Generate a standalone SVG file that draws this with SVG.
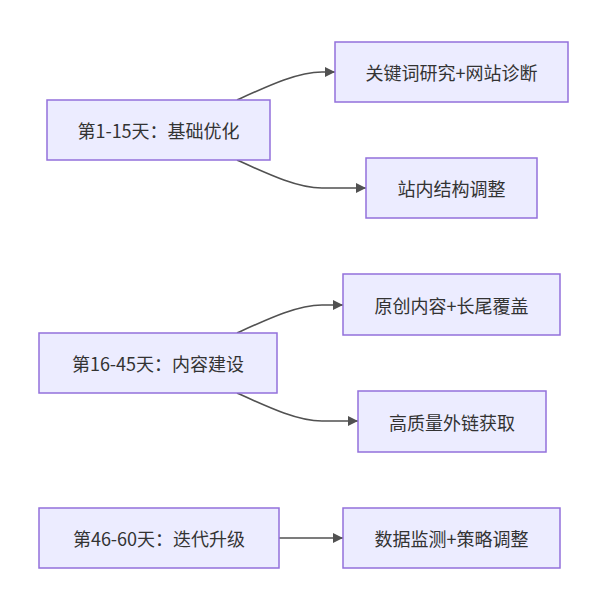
<svg xmlns="http://www.w3.org/2000/svg" width="597" height="592" viewBox="0 0 597 592">
<style>
.node rect{fill:#ECECFF;stroke:#9370DB;stroke-width:1.5}
.node text{font-family:"Noto Sans CJK SC","Noto Sans",sans-serif;font-size:18px;fill:#333;text-anchor:middle;dominant-baseline:central}
.edge{fill:none;stroke:#333;stroke-width:1.6;opacity:0.85}
</style>
<defs>
<marker id="arrow" viewBox="0 0 10 10" refX="10" refY="5" markerUnits="userSpaceOnUse" markerWidth="10" markerHeight="10" orient="auto">
<path d="M0,0 L10,5 L0,10 z" fill="#333"/>
</marker>
</defs>
<rect width="597" height="592" fill="#fff"/>
<g id="connectors">
<path class="edge" d="M237,100 C270,85 298,72 322,72 L335,72" marker-end="url(#arrow)"/>
<path class="edge" d="M237,160 C270,175 298,188 322,188 L366,188" marker-end="url(#arrow)"/>
<path class="edge" d="M237,333 C270,318 298,305 322,305 L343,305" marker-end="url(#arrow)"/>
<path class="edge" d="M237,393 C270,408 298,421 322,421 L358,421" marker-end="url(#arrow)"/>
<path class="edge" d="M279,538 L343,538" marker-end="url(#arrow)"/>
</g>
<g id="n1" class="node"><rect x="47" y="100" width="223" height="60"/><text x="158.5" y="130">第1-15天：基础优化</text></g>
<g id="n2" class="node"><rect x="335" y="42" width="233" height="60"/><text x="451.5" y="72">关键词研究+网站诊断</text></g>
<g id="n3" class="node"><rect x="366" y="158" width="171" height="60"/><text x="451.5" y="188">站内结构调整</text></g>
<g id="n4" class="node"><rect x="39" y="333" width="238" height="60"/><text x="158" y="363">第16-45天：内容建设</text></g>
<g id="n5" class="node"><rect x="343" y="274" width="217" height="61"/><text x="451.5" y="304.5">原创内容+长尾覆盖</text></g>
<g id="n6" class="node"><rect x="358" y="391" width="188" height="61"/><text x="452" y="421.5">高质量外链获取</text></g>
<g id="n7" class="node"><rect x="39" y="508" width="240" height="60"/><text x="159" y="538">第46-60天：迭代升级</text></g>
<g id="n8" class="node"><rect x="343" y="508" width="217" height="60"/><text x="451.5" y="538">数据监测+策略调整</text></g>
</svg>
